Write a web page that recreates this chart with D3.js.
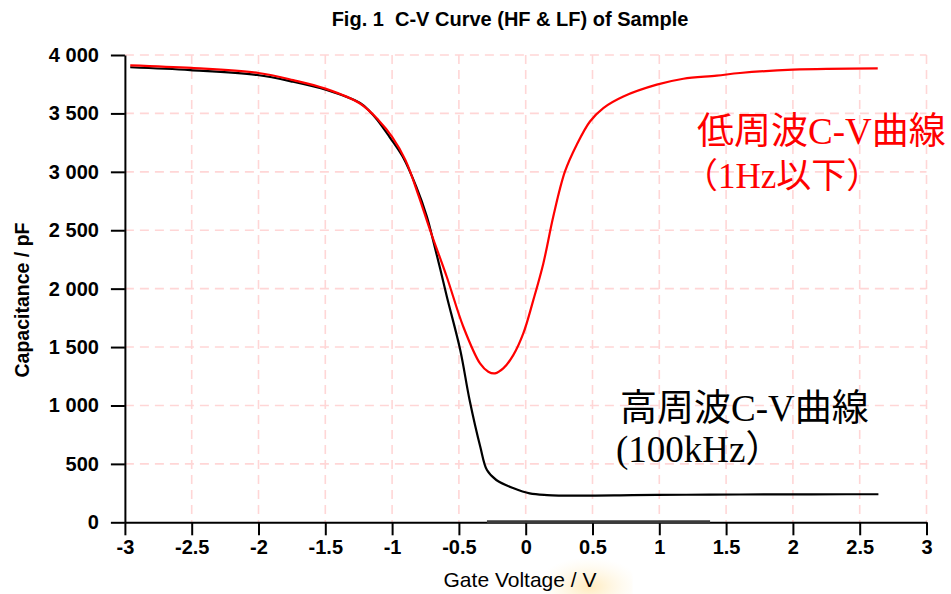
<!DOCTYPE html>
<html><head><meta charset="utf-8">
<script src="https://cdn.jsdelivr.net/npm/d3@7"></script>
<style>body{margin:0;background:#fff}</style>
</head><body>
<svg id="chart" width="951" height="594"></svg>
<script>
const titleText = "Fig. 1  C-V Curve (HF & LF) of Sample";
const xLabel = "Gate Voltage / V";
const yLabel = "Capacitance / pF";
const xTicks = [-3, -2.5, -2, -1.5, -1, -0.5, 0, 0.5, 1, 1.5, 2, 2.5, 3];
const yTicks = [0, 500, 1000, 1500, 2000, 2500, 3000, 3500, 4000];

// High frequency (100 kHz) curve
const hfVoltage = [-2.96, -2.51, -2.01, -1.74, -1.49, -1.24, -1.165, -1.11, -1.02, -0.92, -0.82, -0.74, -0.69, -0.64, -0.59, -0.49, -0.42, -0.34, -0.29, -0.22, -0.09, 0.03, 0.16, 0.4, 0.8, 1.2, 1.6, 2.0, 2.4, 2.64];
const hfCapacitance = [3895, 3871, 3829, 3771, 3700, 3589, 3515, 3443, 3300, 3129, 2875, 2618, 2400, 2170, 1931, 1475, 1047, 647, 447, 362, 291, 247, 233, 228, 232, 236, 238, 239, 240, 240];

// Low frequency (<1 Hz) curve
const lfVoltage = [-2.96, -2.5, -2.0, -1.74, -1.5, -1.24, -1.1, -1.0, -0.9, -0.8, -0.716, -0.591, -0.467, -0.342, -0.28, -0.23, -0.168, -0.093, -0.018, 0.057, 0.132, 0.207, 0.294, 0.382, 0.481, 0.581, 0.731, 0.981, 1.18, 1.43, 1.604, 2.0, 2.635];
const lfCapacitance = [3912, 3889, 3846, 3785, 3712, 3585, 3440, 3300, 3100, 2790, 2502, 2102, 1674, 1360, 1289, 1275, 1317, 1431, 1617, 1902, 2216, 2620, 3003, 3232, 3431, 3546, 3645, 3746, 3797, 3823, 3846, 3874, 3885];

const lfLabel = ["低周波C-V曲線", "（1Hz以下）"];
const hfLabel = ["高周波C-V曲線", "(100kHz）"];

const svg = d3.select("#chart");
svg.append("rect").attr("width", 951).attr("height", 594).attr("fill", "#fff");

const x = d3.scaleLinear().domain([-3, 3]).range([124.9, 926.5]);
const y = d3.scaleLinear().domain([0, 4000]).range([522.3, 55]);

const loc = d3.formatLocale({decimal: ".", thousands: " ", grouping: [3], currency: ["", ""], minus: "-"});
const yFmt = loc.format(",");
const xFmt = loc.format("");

// subtle glow artifact under the x label
const defs = svg.append("defs");
const rg = defs.append("radialGradient").attr("id", "glow").attr("cx", "50%").attr("cy", "85%").attr("r", "60%");
rg.append("stop").attr("offset", "0%").attr("stop-color", "#ffe2a0").attr("stop-opacity", 0.7);
rg.append("stop").attr("offset", "100%").attr("stop-color", "#fff3d6").attr("stop-opacity", 0);
svg.append("rect").attr("x", x(0.15)).attr("y", 545).attr("width", x(0.8) - x(0.15)).attr("height", 49).attr("fill", "url(#glow)");

// grid
const grid = svg.append("g").attr("stroke", "#ffd6d6").attr("stroke-width", 1.6).attr("stroke-dasharray", "9,6");
grid.selectAll("line.v").data(xTicks.filter(d => d > -3)).join("line")
  .attr("x1", d => x(d)).attr("x2", d => x(d)).attr("y1", y(4000)).attr("y2", y(0));
grid.selectAll("line.h").data(yTicks.filter(d => d > 0)).join("line")
  .attr("x1", x(-3)).attr("x2", x(3)).attr("y1", d => y(d)).attr("y2", d => y(d));

// axes
const fontTick = "'Liberation Sans', Arial, sans-serif";
const yAxis = svg.append("g").attr("transform", `translate(${x(-3)},0)`)
  .call(d3.axisLeft(y).tickValues(yTicks).tickFormat(yFmt).tickSize(14).tickSizeOuter(0).tickPadding(12));
const xAxis = svg.append("g").attr("transform", `translate(0,${y(0)})`)
  .call(d3.axisBottom(x).tickValues(xTicks).tickFormat(xFmt).tickSize(13).tickSizeOuter(0).tickPadding(5));
[yAxis, xAxis].forEach(g => {
  g.selectAll("path.domain").attr("stroke", "#000").attr("stroke-width", 2);
  g.selectAll(".tick line").attr("stroke", "#000").attr("stroke-width", 2);
  g.selectAll(".tick text").attr("fill", "#000").style("font-family", fontTick).style("font-weight", "bold").style("font-size", "20px");
});

// darker segment on x axis (artifact)
svg.append("line").attr("x1", x(-0.29)).attr("x2", x(1.38)).attr("y1", y(0) - 0.5).attr("y2", y(0) - 0.5)
  .attr("stroke", "#3a3a3a").attr("stroke-width", 3);

// curves
const line = d3.line().x(d => x(d[0])).y(d => y(d[1])).curve(d3.curveCatmullRom.alpha(0.5));
const hfData = hfVoltage.map((v, i) => [v, hfCapacitance[i]]);
const lfData = lfVoltage.map((v, i) => [v, lfCapacitance[i]]);
svg.append("path").datum(hfData).attr("d", line).attr("fill", "none").attr("stroke", "#000").attr("stroke-width", 2.2);
svg.append("path").datum(lfData).attr("d", line).attr("fill", "none").attr("stroke", "#ff0000").attr("stroke-width", 2.2);

// title
svg.append("text").attr("x", 510).attr("y", 26).attr("text-anchor", "middle")
  .style("font-family", fontTick).style("font-weight", "bold")
  .style("font-size", "20px").style("white-space", "pre").attr("fill", "#000").text(titleText);

// axis titles
svg.append("text").attr("x", 520).attr("y", 587).attr("text-anchor", "middle")
  .style("font-family", fontTick).style("font-size", "21px").attr("fill", "#000").text(xLabel);
svg.append("text").attr("transform", "translate(29,300) rotate(-90)").attr("text-anchor", "middle")
  .style("font-family", fontTick).style("font-weight", "bold").style("font-size", "19.5px").attr("fill", "#000").text(yLabel);

// annotations
const annFont = "'Liberation Serif', 'Noto Sans CJK JP', serif";
svg.append("text").attr("x", 697).attr("y", 144).attr("fill", "#ff0000")
  .style("font-family", annFont).style("font-size", "37px").text(lfLabel[0]);
svg.append("text").attr("x", 683).attr("y", 188).attr("fill", "#ff0000")
  .style("font-family", annFont).style("font-size", "35px").text(lfLabel[1]);
svg.append("text").attr("x", 620).attr("y", 421).attr("fill", "#000")
  .style("font-family", annFont).style("font-size", "37px").text(hfLabel[0]);
svg.append("text").attr("x", 616).attr("y", 462).attr("fill", "#000")
  .style("font-family", annFont).style("font-size", "37px").text(hfLabel[1]);
</script>
</body></html>
